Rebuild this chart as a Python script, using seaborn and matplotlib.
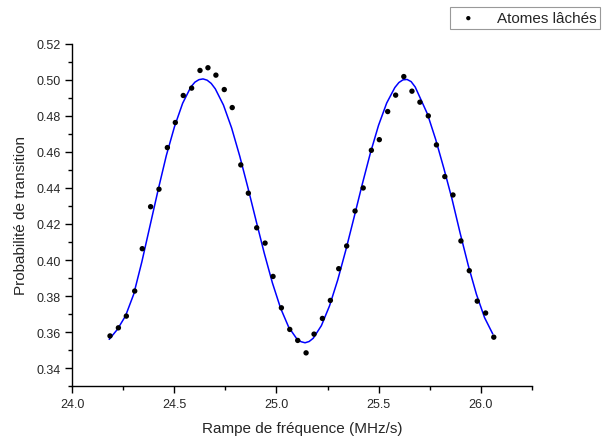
import matplotlib
matplotlib.use("Agg")
import matplotlib.pyplot as plt
import seaborn as sns
import pandas as pd
from matplotlib.ticker import MultipleLocator

# measured points (Atomes lâchés)
ramp = [24.184, 24.225, 24.264, 24.305, 24.342, 24.383, 24.424, 24.465, 24.504, 24.543,
        24.584, 24.625, 24.664, 24.703, 24.744, 24.783, 24.825, 24.862, 24.903, 24.944,
        24.983, 25.024, 25.065, 25.104, 25.145, 25.184, 25.225, 25.264, 25.305, 25.344,
        25.385, 25.425, 25.465, 25.504, 25.545, 25.584, 25.624, 25.664, 25.703, 25.744,
        25.784, 25.825, 25.865, 25.904, 25.945, 25.984, 26.025, 26.065]
proba = [0.3579, 0.3624, 0.3689, 0.3828, 0.4063, 0.4296, 0.4393, 0.4624, 0.4763, 0.4913,
         0.4954, 0.5052, 0.5067, 0.5026, 0.4946, 0.4846, 0.4528, 0.4371, 0.4179, 0.4094,
         0.3909, 0.3735, 0.3615, 0.3554, 0.3485, 0.3589, 0.3676, 0.3776, 0.3952, 0.4078,
         0.4272, 0.4400, 0.4609, 0.4668, 0.4824, 0.4915, 0.5018, 0.4937, 0.4876, 0.4800,
         0.4639, 0.4463, 0.4361, 0.4106, 0.3941, 0.3772, 0.3706, 0.3572]

# fitted curve
fit_x = [24.18, 24.22, 24.26, 24.30, 24.34, 24.38, 24.42, 24.46, 24.50, 24.54,
         24.58, 24.60, 24.62, 24.64, 24.66, 24.68, 24.70, 24.74, 24.78, 24.82,
         24.86, 24.90, 24.94, 24.98, 25.02, 25.06, 25.10, 25.12, 25.14, 25.16,
         25.18, 25.22, 25.26, 25.30, 25.34, 25.38, 25.42, 25.46, 25.50, 25.54,
         25.58, 25.60, 25.62, 25.64, 25.66, 25.68, 25.70, 25.74, 25.78, 25.82,
         25.86, 25.90, 25.94, 25.98, 26.02, 26.06]
fit_y = [0.3560, 0.3615, 0.3690, 0.3810, 0.3990, 0.4190, 0.4390, 0.4580, 0.4740, 0.4870,
         0.4960, 0.4987, 0.5001, 0.5005, 0.4998, 0.4980, 0.4950, 0.4860, 0.4733, 0.4576,
         0.4401, 0.4218, 0.4038, 0.3873, 0.3733, 0.3627, 0.3562, 0.3547, 0.3541, 0.3548,
         0.3566, 0.3636, 0.3746, 0.3889, 0.4056, 0.4236, 0.4419, 0.4593, 0.4747, 0.4871,
         0.4957, 0.4985, 0.5000, 0.5002, 0.4990, 0.4960, 0.4910, 0.4810, 0.4670, 0.4510,
         0.4340, 0.4150, 0.3970, 0.3810, 0.3680, 0.3590]

points = pd.DataFrame({"x": ramp, "y": proba})
fit = pd.DataFrame({"x": fit_x, "y": fit_y})

sns.set_style("ticks")
plt.rcParams["font.family"] = ["Liberation Sans", "DejaVu Sans"]

fig = plt.figure(figsize=(6.04, 4.39), dpi=100)
ax = fig.add_axes([0.120, 0.118, 0.760, 0.780])

sns.lineplot(data=fit, x="x", y="y", sort=False, color="#0000ff", linewidth=1.1, ax=ax)
sns.scatterplot(data=points, x="x", y="y", color="black", s=15, edgecolor="none",
                label="Atomes lâchés", ax=ax, zorder=3)

ax.set_xlim(24.0, 26.25)
ax.set_ylim(0.33, 0.52)
ax.xaxis.set_major_locator(MultipleLocator(0.5))
ax.xaxis.set_minor_locator(MultipleLocator(0.25))
ax.yaxis.set_major_locator(MultipleLocator(0.02))
ax.yaxis.set_minor_locator(MultipleLocator(0.01))
ax.xaxis.set_major_formatter(plt.FormatStrFormatter("%.1f"))
ax.yaxis.set_major_formatter(plt.FormatStrFormatter("%.2f"))
ax.tick_params(which="major", direction="out", length=5, width=1, labelsize=9, color="black")
ax.tick_params(which="minor", direction="out", length=3, width=1, color="black")
for side in ["left", "bottom"]:
    ax.spines[side].set_linewidth(1.0)
    ax.spines[side].set_color("black")
sns.despine(ax=ax)

ax.set_xlabel("Rampe de fréquence (MHz/s)", fontsize=11, labelpad=8)
ax.set_ylabel("Probabilité de transition", fontsize=11, labelpad=6)

leg = ax.legend(loc="upper left", bbox_to_anchor=(0.745, 0.981), bbox_transform=fig.transFigure,
                frameon=True, fancybox=False, edgecolor="#808080", fontsize=11,
                borderpad=0.25, handletextpad=0.9, handlelength=1.9, borderaxespad=0,
                markerscale=0.8)
leg.get_frame().set_linewidth(0.8)

fig.savefig("out.png", dpi=100)
